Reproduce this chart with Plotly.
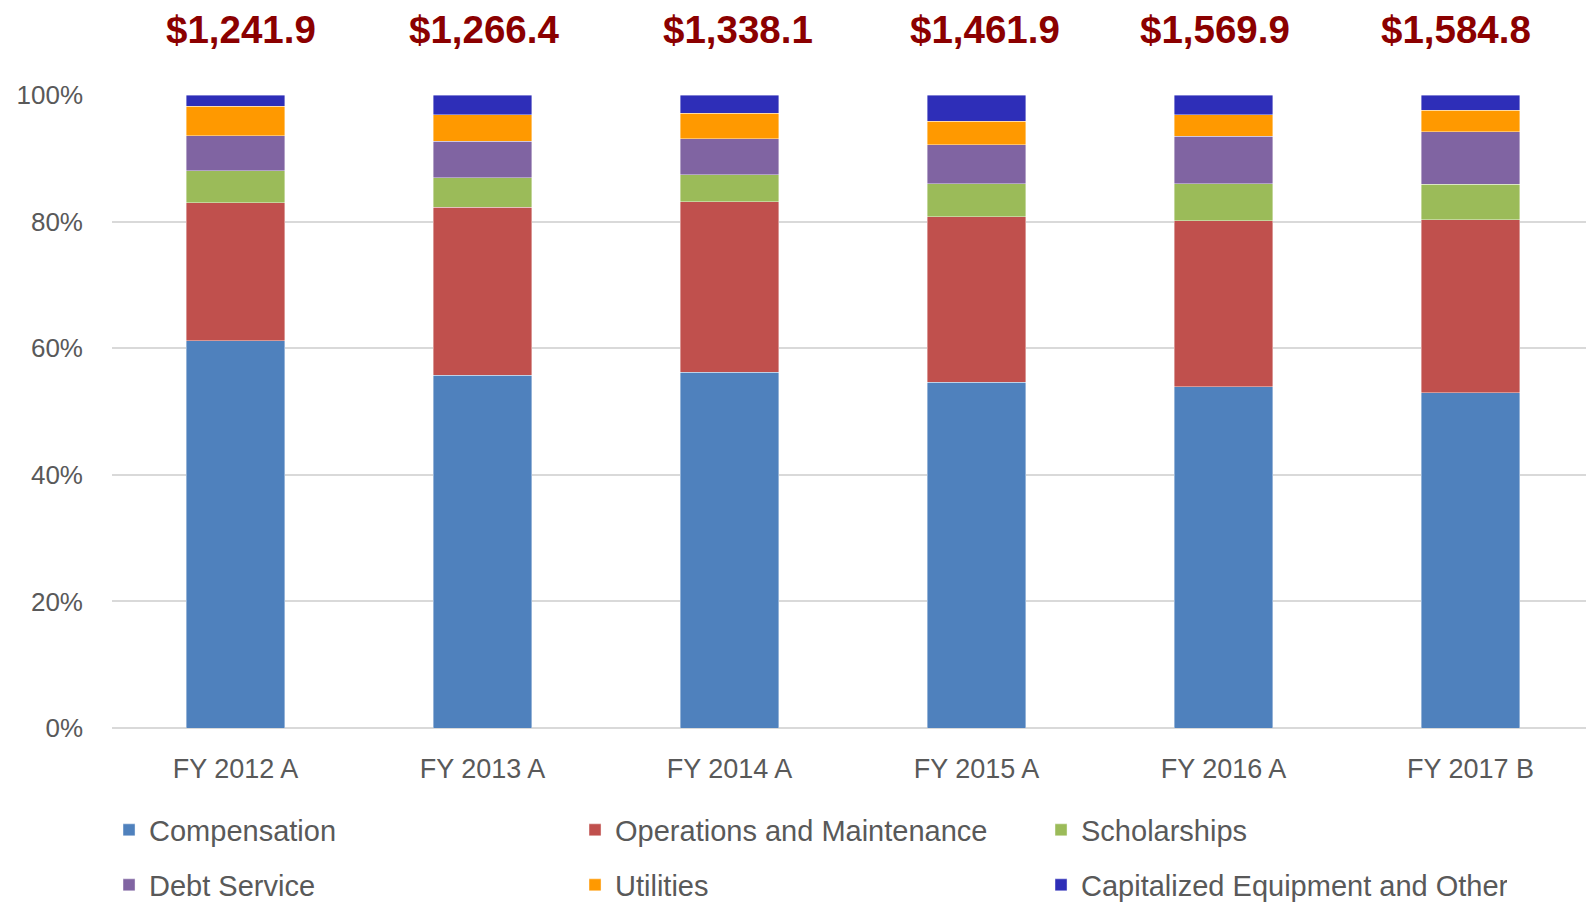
import plotly.graph_objects as go

categories = ["FY 2012 A", "FY 2013 A", "FY 2014 A", "FY 2015 A", "FY 2016 A", "FY 2017 B"]
totals = [1241.9, 1266.4, 1338.1, 1461.9, 1569.9, 1584.8]

compensation = [61.2, 55.7, 56.2, 54.6, 53.9, 53.0]
operations = [21.8, 26.6, 26.9, 26.2, 26.2, 27.3]
scholarships = [5.0, 4.65, 4.3, 5.2, 5.9, 5.6]
debt_service = [5.6, 5.75, 5.65, 6.15, 7.5, 8.3]
utilities = [4.65, 4.2, 4.05, 3.7, 3.4, 3.4]
capitalized = [1.75, 3.1, 2.9, 4.15, 3.1, 2.4]

y_tick_values = [0, 20, 40, 60, 80, 100]
y_tick_labels = ["0%", "20%", "40%", "60%", "80%", "100%"]

# layout: horizontal nudges (px) of the total labels, as placed in the original
total_label_xshift = [5, 1, 8, 8, -9, -15]

series = [
    ("Compensation", compensation, "#4F81BD", "legend"),
    ("Operations and Maintenance", operations, "#C0504D", "legend"),
    ("Scholarships", scholarships, "#9BBB59", "legend"),
    ("Debt Service", debt_service, "#8064A2", "legend2"),
    ("Utilities", utilities, "#FF9900", "legend2"),
    ("Capitalized Equipment and Other", capitalized, "#2E2EB8", "legend2"),
]

FONT = "Liberation Sans, Arial, sans-serif"
GRAY = "#595959"

fig = go.Figure()
for name, vals, color, leg in series:
    fig.add_trace(go.Bar(
        x=categories, y=vals, name=name, legend=leg,
        marker=dict(color=color, line=dict(color="rgba(255,255,255,0.5)", width=0.8)),
        hoverinfo="name+y",
    ))

for cat, tot, dx in zip(categories, totals, total_label_xshift):
    fig.add_annotation(
        x=cat, y=1, xref="x", yref="paper", yshift=66, xshift=dx, yanchor="middle",
        text=f"<b>${tot:,.1f}</b>", showarrow=False,
        font=dict(family=FONT, size=38.5, color="#8B0000"),
    )

legend_common = dict(
    orientation="h", xref="container", yref="container",
    x=0.0637, xanchor="left", yanchor="middle",
    entrywidth=421, entrywidthmode="pixels",
    font=dict(family=FONT, size=29, color=GRAY),
    bgcolor="rgba(0,0,0,0)", traceorder="normal",
)

# page has an 8px body margin: figure is sized/offset to compensate
fig.update_layout(
    width=1586, height=894,
    barmode="stack", bargap=0.6,
    plot_bgcolor="white", paper_bgcolor="white",
    margin=dict(l=104, r=0, t=87, b=174),
    showlegend=True,
    legend=dict(**legend_common, y=1 - 822 / 894),
    legend2=dict(**legend_common, y=1 - 877 / 894),
    xaxis=dict(
        showgrid=False, showline=False, ticks="",
        tickfont=dict(family=FONT, size=27, color=GRAY),
        ticklabelstandoff=22,
    ),
    yaxis=dict(
        range=[0, 100], tickmode="array",
        tickvals=y_tick_values, ticktext=y_tick_labels,
        showgrid=True, gridcolor="#D9D9D9", gridwidth=2,
        zeroline=True, zerolinecolor="#D9D9D9", zerolinewidth=2,
        showline=False, ticks="",
        tickfont=dict(family=FONT, size=26, color=GRAY),
        ticklabelstandoff=28,
    ),
)

fig.write_html("out.html")
